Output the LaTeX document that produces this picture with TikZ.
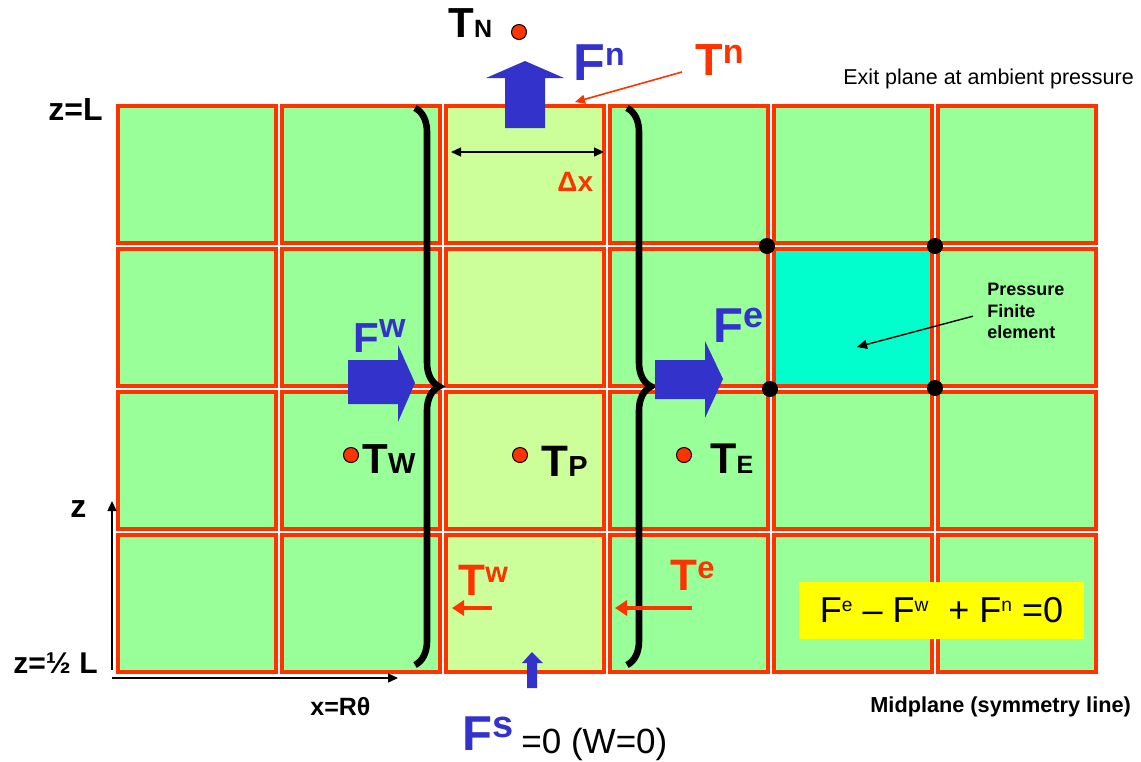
\documentclass[tikz,border=0pt]{standalone}
\usepackage{fontspec}
\setmainfont{Liberation Sans}
\usetikzlibrary{arrows.meta,decorations.pathreplacing,positioning}

\definecolor{cellgreen}{HTML}{99FF99}
\definecolor{midgreen}{HTML}{CCFF99}
\definecolor{elemcyan}{HTML}{00FFCC}
\definecolor{gridred}{HTML}{FF3300}
\definecolor{forceblue}{HTML}{3333CC}
\definecolor{eqyellow}{HTML}{FFFF00}

\newcommand{\fsz}[1]{\fontsize{#1}{#1}\selectfont}
\newcommand{\supi}[3]{\raisebox{#2}{\fsz{#1}#3}}

\begin{document}
\begin{tikzpicture}[x=0.5pt, y=-0.5pt,
        cell/.style={draw=gridred, line width=2pt, fill=cellgreen, minimum width=79pt, minimum height=68.5pt, inner sep=0pt},
        bigbrace/.style={decorate, decoration={brace, amplitude=12pt}, line width=3.3pt},
        force/.style={fill=forceblue},
        tdot/.style={circle, draw=black, fill=gridred, line width=0.5pt, minimum size=7.5pt, inner sep=0pt},
        corner/.style={circle, fill=black, minimum size=8pt, inner sep=0pt},
        lab/.style={inner sep=0pt, anchor=base west},
        ptr/.style={-{Triangle[length=5pt, width=4.5pt]}, line width=0.7pt},
        dim/.style={{Triangle[length=5pt, width=4.5pt]}-{Triangle[length=5pt, width=4.5pt]}, line width=0.7pt},
        tarrow/.style={-{Triangle[length=6pt, width=7.5pt]}, line width=2.2pt, draw=gridred},
        eqbox/.style={fill=eqyellow, minimum width=142.5pt, minimum height=28.5pt, inner sep=0pt}
    ]
        \useasboundingbox (0,0) rectangle (1141,761);

        % grid of control volumes
        \foreach \c/\col in {0/cellgreen, 1/cellgreen, 2/midgreen, 3/cellgreen, 4/cellgreen, 5/cellgreen} {
            \foreach \r in {0,...,3} {
                \node[cell, fill=\col] (cell-\c-\r) at ({197+164*\c}, {174.5+143*\r}) {};
            }
        }
        \node[cell, fill=elemcyan] (elem) at (cell-4-1) {};

        % control volume boundaries
        \draw[bigbrace] (415,108) -- (415,665);
        \draw[bigbrace] (627,108) -- (627,665);

        % fluxes
        \fill[force] (505,128) -- (505,78) -- (486,78) -- (525,61) -- (564,78) -- (545,78) -- (545,128) -- cycle;
        \fill[force] (348,360) -- (398,360) -- (398,345) -- (415,383) -- (398,422) -- (398,404) -- (348,404) -- cycle;
        \fill[force] (655,360) -- (705,360) -- (705,341) -- (723,379) -- (705,418) -- (705,399) -- (655,399) -- cycle;
        \fill[force] (527,688) -- (527,663) -- (522,663) -- (532,652) -- (543,663) -- (537,663) -- (537,688) -- cycle;

        % nodal temperatures
        \node[tdot] (dN) at (519,32) {};
        \node[tdot] (dW) at (351,455) {};
        \node[tdot] (dP) at (520,455) {};
        \node[tdot] (dE) at (684,455) {};

        % pressure element corners
        \node[corner] (k1) at (767,246) {};
        \node[corner] (k2) at (935,246) {};
        \node[corner] (k3) at (770,389) {};
        \node[corner] (k4) at (935,388) {};

        % labels
        \node[lab] (TNlab) at (448,37) {\bfseries\fsz{21}T\fsz{12.5}N};
        \node[lab, text=forceblue] (Fnlab) at (573,80) {\bfseries\fsz{26}F\supi{16}{7.5pt}{n}};
        \node[lab, text=gridred] (Tnlab) at (695,75) {\bfseries\fsz{22.5}T\supi{17}{6pt}{n}};
        \node[lab] (exitlab) at (843,84) {\fsz{10.75}Exit plane at ambient pressure};
        \node[lab] (zL) at (48,120) {\bfseries\fsz{16}z=L};
        \node[lab, text=gridred] (dxlab) at (557,191) {\bfseries\fsz{14}Δx};
        \node[lab, text=forceblue] (Fwlab) at (353,352) {\bfseries\fsz{21}F\supi{17}{7.5pt}{w}};
        \node[lab, text=forceblue] (Felab) at (713,342) {\bfseries\fsz{24.5}F\supi{18}{7.5pt}{e}};
        \node[lab] (TWlab) at (362,473) {\bfseries\fsz{21}T\fsz{14.5}W};
        \node[lab] (TPlab) at (541,476) {\bfseries\fsz{22}T\fsz{14.5}P};
        \node[lab] (TElab) at (710,473) {\bfseries\fsz{21.5}T\fsz{12.5}E};
        \node[inner sep=0pt, anchor=north west, align=left, font=\bfseries\fontsize{9}{10.75}\selectfont] (elabel) at (987,283) {Pressure\\Finite\\element};
        \node[lab] (zlab) at (70,517) {\bfseries\fsz{16}z};
        \node[lab] (zhalf) at (13,673) {\bfseries\fsz{15}z=½ L};
        \node[lab] (xlab) at (310,715) {\bfseries\fsz{12.5}x=Rθ};
        \node[lab, text=gridred] (Twlab) at (458,595) {\bfseries\fsz{22}T\supi{14.5}{6.5pt}{w}};
        \node[lab, text=gridred] (Telab) at (670,590) {\bfseries\fsz{22}T\supi{15.5}{6pt}{e}};
        \node[lab] (Fslab) at (462,750) {\textcolor{forceblue}{\bfseries\fsz{24.5}F\supi{19}{6.5pt}{s}}\hspace{4pt}\raisebox{-1.5pt}{\fsz{17.5}=0 (W=0)}};
        \node[eqbox] (eq) at (941.5,610.5) {\fsz{18}F\supi{9.6}{5.5pt}{e} – F\supi{9.6}{5.5pt}{w}\ \ + F\supi{9.6}{5.5pt}{n} =0};
        \node[lab] (midlab) at (870,712) {\bfseries\fsz{10.85}Midplane (symmetry line)};

        % pointers and axes
        \coordinate (TnTip) at (575,102);
        \draw[ptr, draw=gridred, line width=0.8pt] ([shift={(-13,-3)}]Tnlab.base west) -- (TnTip);
        \coordinate (dxL) at (451,152);
        \coordinate (dxR) at (604,152);
        \draw[dim] (dxL) -- (dxR);
        \coordinate (elemPt) at (857,347);
        \draw[ptr] ([shift={(-14,5)}]elabel.west) -- (elemPt);
        \coordinate (zFoot) at (112,670);
        \coordinate (zHead) at (112,501);
        \coordinate (xFoot) at (112,678);
        \coordinate (xHead) at (398,678);
        \draw[ptr] (zFoot) -- (zHead);
        \draw[ptr] (xFoot) -- (xHead);
        \coordinate (TwFoot) at (492,608);
        \coordinate (TwHead) at (452,608);
        \coordinate (TeFoot) at (692,608);
        \coordinate (TeHead) at (615,608);
        \draw[tarrow] (TwFoot) -- (TwHead);
        \draw[tarrow] (TeFoot) -- (TeHead);
    \end{tikzpicture}
\end{document}
